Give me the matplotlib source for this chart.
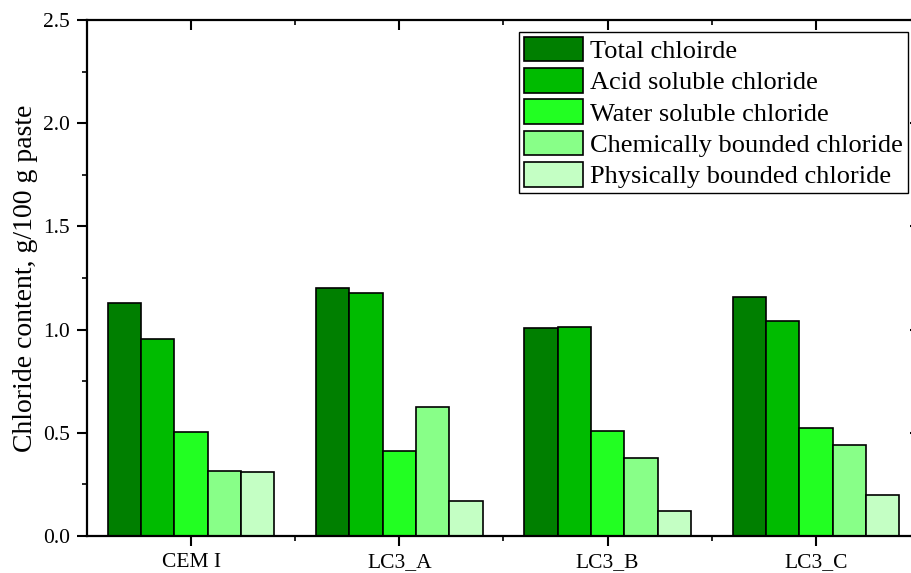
import numpy as np
import matplotlib
matplotlib.use('Agg')
import matplotlib.pyplot as plt
from matplotlib.ticker import MultipleLocator

plt.rcParams['font.family'] = ['Liberation Serif', 'DejaVu Serif']

samples = ['CEM I', 'LC3_A', 'LC3_B', 'LC3_C']
series = ['Total chloirde', 'Acid soluble chloride', 'Water soluble chloride',
          'Chemically bounded chloride', 'Physically bounded chloride']
total = [1.13, 1.20, 1.01, 1.16]
acid = [0.955, 1.175, 1.015, 1.04]
water = [0.505, 0.41, 0.51, 0.525]
chem = [0.316, 0.625, 0.38, 0.44]
phys = [0.312, 0.17, 0.122, 0.199]
colors = ['#007f00', '#00bb00', '#22ff22', '#88ff88', '#c4ffc4']

fig = plt.figure(figsize=(9.12, 5.73), dpi=100)
ax = fig.add_axes([87/912, 37/573, 833/912, 516/573])

x = np.arange(len(samples))
w = 0.16
for i, (vals, name) in enumerate(zip([total, acid, water, chem, phys], series)):
    ax.bar(x + (i - 2) * w, vals, w, color=colors[i], edgecolor='black',
           linewidth=1.2, label=name)

ax.set_xlim(-0.5, 3.5)
ax.set_ylim(0, 2.5)
ax.set_xticks(x)
ax.set_xticklabels(samples)
ax.set_xticks(x[:-1] + 0.5, minor=True)
ax.yaxis.set_major_locator(MultipleLocator(0.5))
ax.yaxis.set_minor_locator(MultipleLocator(0.25))
ax.yaxis.set_major_formatter(plt.FormatStrFormatter('%.1f'))
ax.set_ylabel('Chloride content, g/100 g paste', fontsize=20, labelpad=3)

for s in ax.spines.values():
    s.set_linewidth(1.6)
ax.tick_params(axis='both', which='major', direction='out', length=7.5, width=1.5,
               labelsize=15.5, pad=5)
ax.tick_params(axis='both', which='minor', direction='out', length=3.5, width=1.2)
ax.tick_params(top=True, right=True, which='both')
ax.tick_params(axis='x', which='both', top=True, labeltop=False)

# top/right ticks point inward
for t in ax.xaxis.get_major_ticks() + ax.xaxis.get_minor_ticks():
    t.tick2line.set_marker(3)
for t in ax.yaxis.get_major_ticks() + ax.yaxis.get_minor_ticks():
    t.tick2line.set_marker(0)

leg = ax.legend(loc='upper right', bbox_to_anchor=(908/912, 1 - 32/573),
                bbox_transform=fig.transFigure, borderaxespad=0, fontsize=19,
                frameon=True, fancybox=False, framealpha=1, edgecolor='black',
                handlelength=2.24, handleheight=1.06, labelspacing=0.19,
                handletextpad=0.27, borderpad=0.18)
leg.get_frame().set_linewidth(1.0)

fig.savefig('out.png', dpi=100)
